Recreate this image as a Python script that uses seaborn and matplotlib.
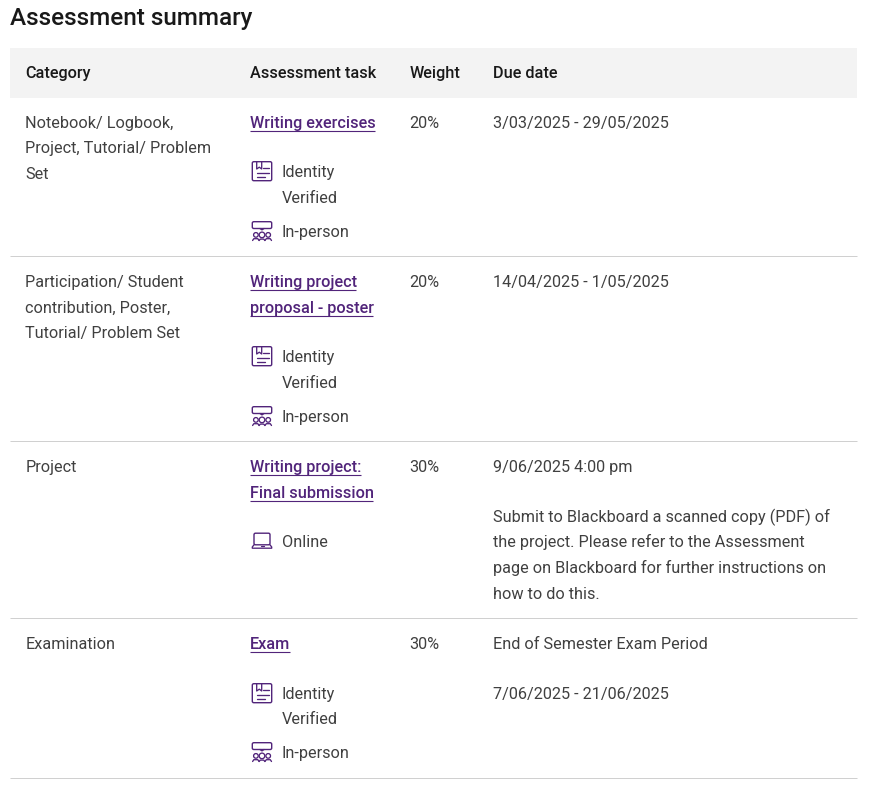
import matplotlib
matplotlib.use("Agg")
import matplotlib.pyplot as plt
from matplotlib.patches import FancyBboxPatch, Circle, Rectangle
import seaborn as sns

title = "Assessment summary"
headers = ["Category", "Assessment task", "Weight", "Due date"]
categories = [
    ["Notebook/ Logbook,", "Project, Tutorial/ Problem", "Set"],
    ["Participation/ Student", "contribution, Poster,", "Tutorial/ Problem Set"],
    ["Project"],
    ["Examination"],
]
tasks = [
    ["Writing exercises"],
    ["Writing project", "proposal - poster"],
    ["Writing project:", "Final submission"],
    ["Exam"],
]
weights = ["20%", "20%", "30%", "30%"]
due_dates = [
    [(0, "3/03/2025 - 29/05/2025")],
    [(0, "14/04/2025 - 1/05/2025")],
    [(0, "9/06/2025 4:00 pm"),
     (50, "Submit to Blackboard a scanned copy (PDF) of"),
     (75, "the project. Please refer to the Assessment"),
     (101, "page on Blackboard for further instructions on"),
     (127, "how to do this.")],
    [(0, "End of Semester Exam Period"), (50, "7/06/2025 - 21/06/2025")],
]
modes = [
    [("id", 171, ["Identity", "Verified"], 26), ("person", 231, ["In-person"], 0)],
    [("id", 356, ["Identity", "Verified"], 26), ("person", 416, ["In-person"], 0)],
    [("laptop", 541, ["Online"], 0)],
    [("id", 693, ["Identity", "Verified"], 25), ("person", 752, ["In-person"], 0)],
]

row_centers = [122, 281, 466, 643]
line_steps = [[0, 25, 51], [0, 26, 51], [0, 26, 51], [0, 26, 51]]
rules = [255.5, 440.5, 617.5, 777.5]
col_x = [25.3, 250.3, 409.7, 493]

DARK = "#404040"
HEAD = "#191919"
PURPLE = "#51247a"
FS = 11.72

sns.set_theme(style="white")
plt.rcParams["font.family"] = ["Roboto", "DejaVu Sans"]

fig = plt.figure(figsize=(8.72, 7.95), dpi=100)
ax = fig.add_axes([0, 0, 1, 1])
ax.set_xlim(0, 872)
ax.set_ylim(795, 0)
ax.axis("off")


def put(x, yc, s, color=DARK, size=FS, weight="normal"):
    return ax.text(x, yc + 5.7, s, color=color, fontsize=size, fontweight=weight,
                   va="baseline", ha="left")


def rrect(x, y, w, h, r=1.5, lw=1.0):
    ax.add_patch(FancyBboxPatch((x + r, y + r), w - 2 * r, h - 2 * r,
                                boxstyle=f"round,pad={r}", fc="none", ec=PURPLE, lw=lw))


def seg(xs, ys, lw=0.95):
    ax.plot(xs, ys, color=PURPLE, lw=lw, solid_capstyle="round")


def icon_id(yc):
    x0, y0 = 252.3, yc - 9.3
    rrect(x0, y0, 19.4, 19)
    seg([x0 + 4.4, x0 + 4.4, x0 + 7, x0 + 9.4, x0 + 9.4],
        [y0, y0 + 7.3, y0 + 5.5, y0 + 7.3, y0])
    seg([x0 + 11, x0 + 16.7], [y0 + 6.6, y0 + 6.6])
    seg([x0 + 4.4, x0 + 16.7], [y0 + 11, y0 + 11])
    seg([x0 + 4.4, x0 + 12.7], [y0 + 15, y0 + 15])


def icon_person(yc):
    x0, y0 = 252.3, yc - 9.3
    rrect(x0, y0, 19.4, 6.8)
    seg([x0 + 7.7, x0 + 9.7, x0 + 11.7], [y0 + 6.8, y0 + 8.2, y0 + 6.8])
    for dx, r in [(3.6, 2.3), (9.7, 2.8), (15.9, 2.3)]:
        ax.add_patch(Circle((x0 + dx, y0 + 13.2), r, fc="none", ec=PURPLE, lw=0.95))
    seg([x0 + 0.3, x0 + 1.5, x0 + 5.5, x0 + 6.8], [y0 + 18.8, y0 + 17, y0 + 17, y0 + 18.8])
    seg([x0 + 6.8, x0 + 8, x0 + 11.4, x0 + 12.6], [y0 + 18.8, y0 + 17.4, y0 + 17.4, y0 + 18.8])
    seg([x0 + 12.6, x0 + 14, x0 + 18, x0 + 19.2], [y0 + 18.8, y0 + 17, y0 + 17, y0 + 18.8])


def icon_laptop(yc):
    x0, y0 = 252.3, yc - 7.8
    rrect(x0 + 1.7, y0, 16, 11.6)
    seg([x0 + 1.7, x0, x0, x0 + 19.4, x0 + 19.4, x0 + 17.7],
        [y0 + 11.6, y0 + 13.8, y0 + 15, y0 + 15, y0 + 13.8, y0 + 11.6])
    seg([x0 + 8.2, x0 + 11.2], [y0 + 13.2, y0 + 13.2], lw=0.9)


ICONS = {"id": icon_id, "person": icon_person, "laptop": icon_laptop}

put(10, 19.5, title, color=HEAD, size=17.45, weight="medium")

ax.add_patch(Rectangle((10, 48), 847, 49.5, fc="#f3f3f3", ec="none"))
for x, h in zip(col_x, headers):
    put(x, 72, h, color=HEAD, weight="medium")

renderer = fig.canvas.get_renderer()
for i, yc in enumerate(row_centers):
    steps = line_steps[i]
    for j, line in enumerate(categories[i]):
        put(col_x[0], yc + steps[j], line)
    for j, line in enumerate(tasks[i]):
        y = yc + steps[j]
        t = put(col_x[1], y, line, color=PURPLE, weight="medium")
        w = t.get_window_extent(renderer).width
        ax.plot([col_x[1], col_x[1] + w - 1], [y + 8.5, y + 8.5], color=PURPLE, lw=0.8,
                solid_capstyle="butt")
    put(col_x[2], yc, weights[i])
    for dy, line in due_dates[i]:
        put(col_x[3], yc + dy, line)
    for kind, y, lines, step in modes[i]:
        ICONS[kind](y)
        for j, line in enumerate(lines):
            put(281.7, y + j * step, line)
    ax.plot([10, 857], [rules[i], rules[i]], color="#d0d0d0", lw=0.72,
            solid_capstyle="butt")

fig.savefig("out.png", dpi=100)
